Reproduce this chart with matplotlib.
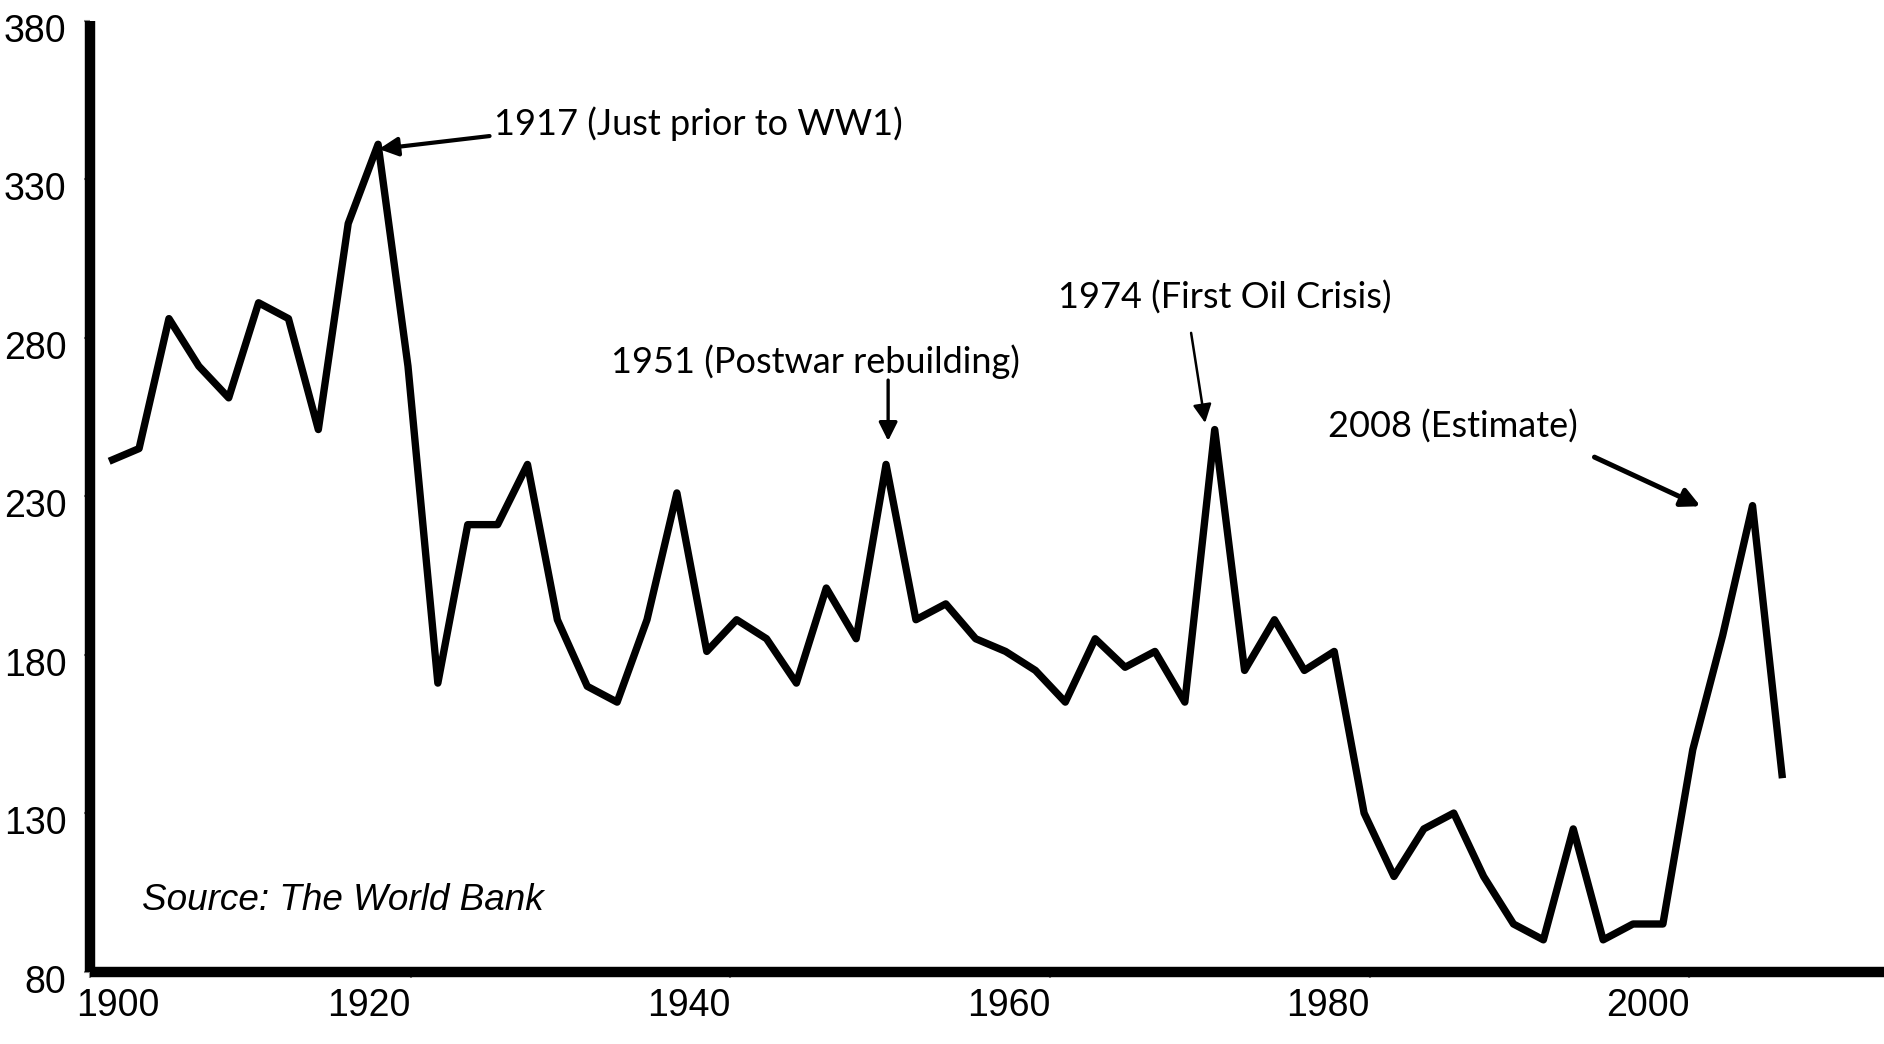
import matplotlib
matplotlib.use('Agg')
import matplotlib.pyplot as plt
import matplotlib.transforms as mtransforms

# values, one point roughly every two years (category axis)
values = [241, 245, 286, 271, 261, 291, 286, 251, 316, 341,
          271, 171, 221, 221, 240, 191, 170, 165, 191, 231,
          181, 191, 185, 171, 201, 185, 240, 191, 196, 185,
          181, 175, 165, 185, 176, 181, 165, 251, 175, 191,
          175, 181, 130, 110, 125, 130, 110, 95, 90, 125,
          90, 95, 95, 150, 186, 227, 141]
idx = list(range(len(values)))

# year ticks sit at these category positions in the original
tick_pos = [-0.64, 10.09, 20.79, 31.49, 42.19, 52.89]
tick_labels = ['1900', '1920', '1940', '1960', '1980', '2000']
y_ticks = [80, 130, 180, 230, 280, 330, 380]

# annotations: text, text position, arrow tail, arrow head, line width
notes = [
    ('1917 (Just prior to WW1)', (12.87, 347.4), (12.73, 343.6), (9.03, 339.5), 3.0),
    ('1951 (Postwar rebuilding)', (23.64, 272.3), (26.07, 266.6), (26.07, 247.4), 2.4),
    ('1974 (First Oil Crisis)', (37.33, 292.5), (36.21, 281.5), (36.68, 253.1), 1.8),
    ('2008 (Estimate)', (44.98, 251.8), (49.71, 242.3), (53.26, 226.8), 3.6),
]

narrow = ['Liberation Sans Narrow', 'Liberation Sans', 'DejaVu Sans']
note_font = ['Lato', 'DejaVu Sans']

fig = plt.figure(figsize=(18.84, 10.44), dpi=100)
ax = fig.add_axes([0.0478, 0.0694, 0.9522, 0.9108])

ax.plot(idx, values, color='black', lw=5.3, solid_joinstyle='round', solid_capstyle='butt')

ax.set_xlim(-0.64, 59.4)
ax.set_ylim(80, 380)

for s in ['top', 'right']:
    ax.spines[s].set_visible(False)
for s in ['left', 'bottom']:
    ax.spines[s].set_linewidth(7.5)
    ax.spines[s].set_color('black')
    ax.spines[s].set_capstyle('butt')

ax.set_xticks(tick_pos)
ax.set_xticklabels(tick_labels, family=narrow, fontsize=27)
ax.set_yticks(y_ticks)
ax.set_yticklabels([str(v) for v in y_ticks], family=narrow, fontsize=27)
ax.tick_params(axis='both', direction='out', length=4, width=1.5, color='#888888')
ax.tick_params(axis='x', pad=8)
ax.tick_params(axis='y', pad=13)

for i, lbl in enumerate(ax.get_xticklabels()):
    if i == 0:
        lbl.set_ha('left')
        lbl.set_transform(lbl.get_transform() + mtransforms.ScaledTranslation(-0.14, 0, fig.dpi_scale_trans))
    else:
        lbl.set_ha('right')
for lbl in ax.get_yticklabels():
    lbl.set_transform(lbl.get_transform() + mtransforms.ScaledTranslation(0, -0.07, fig.dpi_scale_trans))

for text, tpos, tail, head, w in notes:
    ax.text(tpos[0], tpos[1], text, ha='center', va='center', fontsize=26, family=note_font)
    ax.annotate('', xy=head, xytext=tail,
                arrowprops=dict(arrowstyle='-|>', color='black', lw=w,
                                mutation_scale=28, shrinkA=0, shrinkB=0))
# first label is left aligned at the arrow tail
ax.texts[0].set_ha('left')
ax.texts[0].set_x(12.87)

ax.text(1.10, 102.3, 'Source: The World Bank', ha='left', va='center',
        fontsize=26.6, style='italic', family=narrow)

fig.savefig('out.png', dpi=100)
